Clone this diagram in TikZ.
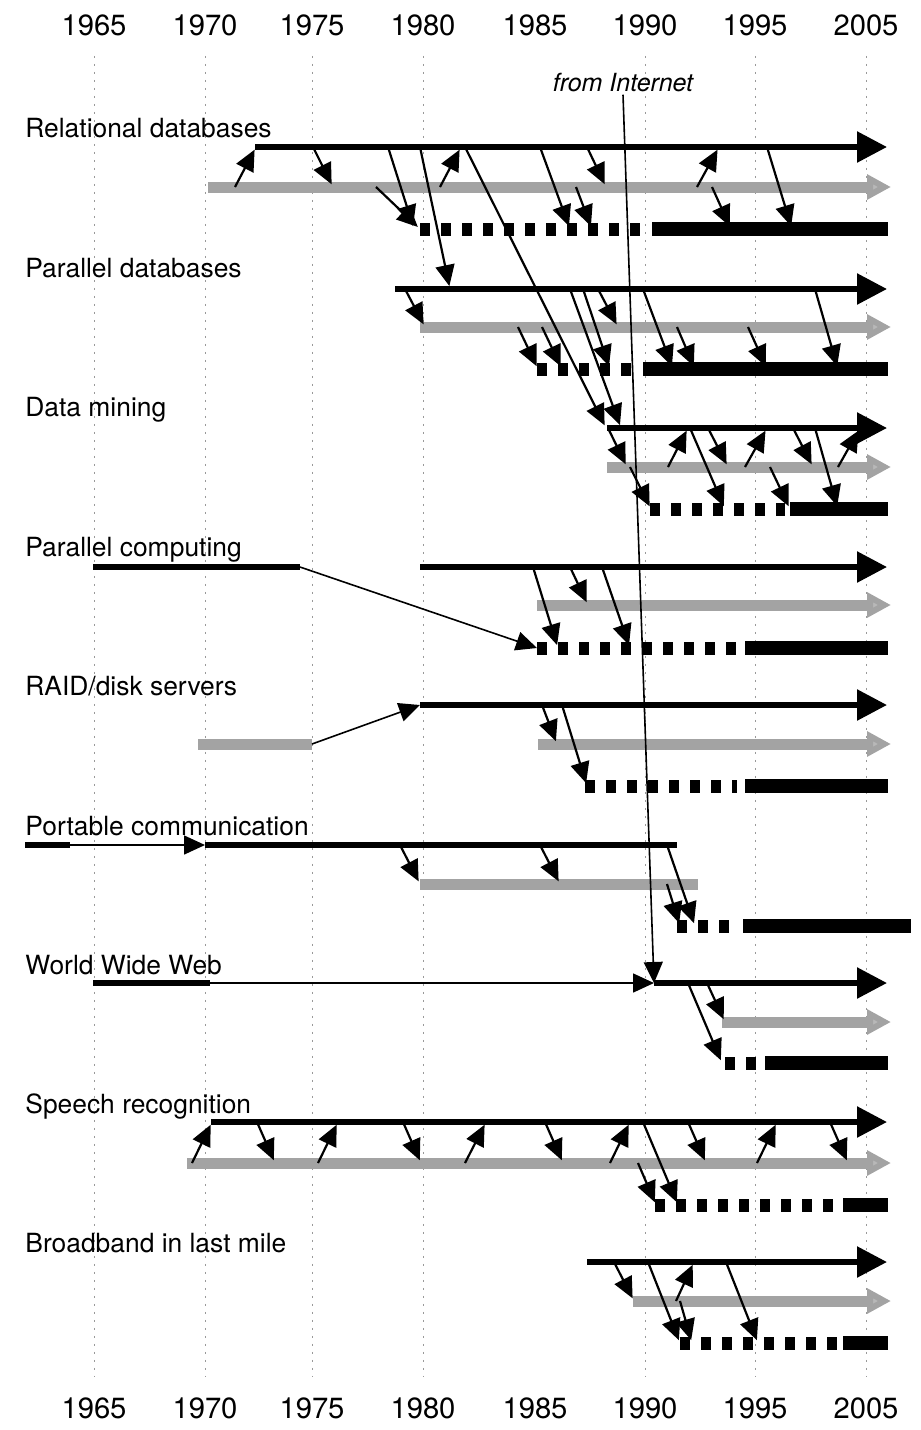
\documentclass[tikz,border=0pt]{standalone}
\usepackage{fontspec}
\setmainfont{TeX Gyre Heros}
\usetikzlibrary{arrows.meta}
\definecolor{shade}{gray}{0.64}
\definecolor{shadetip}{gray}{0.72}
\newcommand\lnk[4]{\draw[link] (#1,0 |- #2) -- (#3,0 |- #4);}
\begin{document}
\begin{tikzpicture}[x=0.5pt,y=-0.5pt,
  yearlabel/.style={font=\fontsize{14.6pt}{16pt}\selectfont, inner sep=0pt},
  rowlabel/.style={font=\fontsize{13.2pt}{15pt}\selectfont, inner sep=0pt, anchor=base west},
  yeargrid/.style={black!40, line width=0.4pt, dash pattern=on 1pt off 3pt},
  mainline/.style={line width=2.8pt, -{Triangle[length=15pt,width=15pt]}},
  mainplain/.style={line width=2.8pt},
  grayline/.style={draw=shade, line width=5.5pt, -{Triangle[length=12pt,width=12pt,fill=shadetip]}},
  grayplain/.style={draw=shade, line width=5.5pt},
  plan/.style={line width=6.5pt, dash pattern=on 5pt off 5.5pt},
  firm/.style={line width=7pt},
  link/.style={line width=1.1pt, shorten >=1.5pt, -{Triangle[length=10.5pt,width=9.5pt]}},
  bridge/.style={line width=0.8pt, -{Triangle[length=10.5pt,width=9.5pt]}}]
\useasboundingbox (0,0) rectangle (921,1430);

% year axis, top and bottom
\foreach \yr/\xx in {1965/94,1970/205,1975/312,1980/423,1985/535,1990/645,1995/755,2005/866} {
  \node[yearlabel] (top\yr) at (\xx,25) {\yr};
  \node[yearlabel] (bot\yr) at (\xx,1408) {\yr};
}
\foreach \yr in {1965,1970,1975,1980,1990,1995,2005}
  \draw[yeargrid, shorten <=10pt, shorten >=10pt] (top\yr) -- (bot\yr);

% levels of each row: research (black), product (gray), market (bottom)
\foreach \i/\b/\g/\d in {1/147/187/229, 2/289/327/369, 3/428/467/509,
    4/567/605/648, 5/705/744/786, 6/845/884/926, 7/983/1022/1063,
    8/1122/1163/1205, 9/1262/1301/1343} {
  \coordinate (B\i) at (0,\b);
  \coordinate (G\i) at (0,\g);
  \coordinate (D\i) at (0,\d);
}

% row titles
\node[rowlabel] (lab1) at (25,137) {Relational databases};
\node[rowlabel] (lab2) at (25,277) {Parallel databases};
\node[rowlabel] (lab3) at (25,416) {Data mining};
\node[rowlabel] (lab4) at (25,556) {Parallel computing};
\node[rowlabel] (lab5) at (25,695) {RAID/disk servers};
\node[rowlabel] (lab6) at (25,835) {Portable communication};
\node[rowlabel] (lab7) at (25,974) {World Wide Web};
\node[rowlabel] (lab8) at (25,1113) {Speech recognition};
\node[rowlabel] (lab9) at (25,1252) {Broadband in last mile};

% ---- Relational databases
\draw[grayline] (208,0 |- G1) -- (891,0 |- G1);
\draw[mainline] (255,0 |- B1) -- (887,0 |- B1);
\draw[plan] (420,0 |- D1) -- (642,0 |- D1);
\draw[firm] (652,0 |- D1) -- (888,0 |- D1);
% ---- Parallel databases
\draw[grayline] (420,0 |- G2) -- (891,0 |- G2);
\draw[mainline] (395,0 |- B2) -- (887,0 |- B2);
\draw[plan] (537,0 |- D2) -- (636,0 |- D2);
\draw[firm] (643,0 |- D2) -- (888,0 |- D2);
% ---- Data mining
\draw[grayline] (607,0 |- G3) -- (891,0 |- G3);
\draw[mainline] (607,0 |- B3) -- (887,0 |- B3);
\draw[plan] (650,0 |- D3) -- (785,0 |- D3);
\draw[firm] (790,0 |- D3) -- (888,0 |- D3);
% ---- Parallel computing
\draw[mainplain] (93,0 |- B4) coordinate (pc0) -- (300,0 |- B4) coordinate (pc1);
\draw[grayline] (537,0 |- G4) -- (891,0 |- G4);
\draw[mainline] (420,0 |- B4) -- (887,0 |- B4);
\draw[plan] (537,0 |- D4) coordinate (pc2) -- (737,0 |- D4);
\draw[firm] (745,0 |- D4) -- (888,0 |- D4);
\draw[bridge] (pc1) -- (pc2);
% ---- RAID/disk servers
\draw[grayplain] (198,0 |- G5) -- (312,0 |- G5) coordinate (rd0);
\draw[grayline] (538,0 |- G5) -- (891,0 |- G5);
\draw[mainline] (420,0 |- B5) coordinate (rd1) -- (887,0 |- B5);
\draw[plan] (585,0 |- D5) -- (737,0 |- D5);
\draw[firm] (745,0 |- D5) -- (888,0 |- D5);
\draw[bridge] (rd0) -- (rd1);
% ---- Portable communication
\draw[mainplain] (25,0 |- B6) -- (70,0 |- B6) coordinate (pm0);
\draw[mainplain] (205,0 |- B6) coordinate (pm1) -- (677,0 |- B6);
\draw[bridge] (pm0) -- (pm1);
\draw[grayplain] (420,0 |- G6) -- (698,0 |- G6);
\draw[plan] (677,0 |- D6) -- (737,0 |- D6);
\draw[firm] (743,0 |- D6) -- (911,0 |- D6);
% ---- World Wide Web
\draw[mainplain] (93,0 |- B7) -- (210,0 |- B7) coordinate (ww0);
\draw[mainline] (654,0 |- B7) coordinate (ww1) -- (887,0 |- B7);
\draw[bridge] (ww0) -- (ww1);
\draw[grayline] (722,0 |- G7) -- (891,0 |- G7);
\draw[plan] (725,0 |- D7) -- (757,0 |- D7);
\draw[firm] (765,0 |- D7) -- (888,0 |- D7);
\node[font=\fontsize{12.5pt}{14pt}\selectfont\itshape, inner sep=1pt] (inet) at (623,83) {from Internet};
\draw[bridge] (inet.south) -- (ww1);
% ---- Speech recognition
\draw[grayline] (187,0 |- G8) -- (891,0 |- G8);
\draw[mainline] (211,0 |- B8) -- (887,0 |- B8);
\draw[plan] (655,0 |- D8) -- (838,0 |- D8);
\draw[firm] (843,0 |- D8) -- (888,0 |- D8);
% ---- Broadband in last mile
\draw[grayline] (633,0 |- G9) -- (891,0 |- G9);
\draw[mainline] (587,0 |- B9) -- (887,0 |- B9);
\draw[plan] (680,0 |- D9) -- (838,0 |- D9);
\draw[firm] (843,0 |- D9) -- (888,0 |- D9);

% ---- transfer arrows
% relational databases
\lnk{235}{G1}{256}{B1}
\lnk{440}{G1}{461}{B1}
\lnk{697}{G1}{719}{B1}
\lnk{313}{B1}{333}{G1}
\lnk{587}{B1}{606}{G1}
\lnk{376}{G1}{420}{D1}
\lnk{576}{G1}{592}{D1}
\lnk{712}{G1}{731}{D1}
\lnk{388}{B1}{414}{D1}
\lnk{540}{B1}{570}{D1}
\lnk{767}{B1}{792}{D1}
\lnk{420}{B1}{450}{B2}
\lnk{465}{B1}{606}{B3}
% parallel databases
\lnk{405}{B2}{425}{G2}
\lnk{518}{G2}{538}{D2}
\lnk{542}{G2}{562}{D2}
\lnk{570}{B2}{621}{B3}
\lnk{583}{B2}{610}{D2}
\lnk{598}{B2}{618}{G2}
\lnk{643}{B2}{673}{D2}
\lnk{677}{G2}{695}{D2}
\lnk{748}{G2}{767}{D2}
\lnk{815}{B2}{838}{D2}
% data mining
\lnk{608}{B3}{627}{G3}
\lnk{630}{G3}{651}{D3}
\lnk{668}{G3}{688}{B3}
\lnk{690}{B3}{725}{D3}
\lnk{708}{B3}{728}{G3}
\lnk{745}{G3}{767}{B3}
\lnk{770}{G3}{790}{D3}
\lnk{793}{B3}{813}{G3}
\lnk{815}{B3}{838}{D3}
\lnk{838}{G3}{860}{B3}
% parallel computing
\lnk{533}{B4}{558}{D4}
\lnk{570}{B4}{588}{G4}
\lnk{602}{B4}{630}{D4}
% RAID/disk servers
\lnk{542}{B5}{557}{G5}
\lnk{562}{B5}{587}{D5}
% portable communication
\lnk{400}{B6}{420}{G6}
\lnk{540}{B6}{560}{G6}
\lnk{667}{B6}{695}{D6}
\lnk{667}{G6}{680}{D6}
% world wide web
\lnk{688}{B7}{722}{D7}
\lnk{707}{B7}{725}{G7}
% speech recognition
\lnk{192}{G8}{212}{B8}
\lnk{318}{G8}{338}{B8}
\lnk{465}{G8}{486}{B8}
\lnk{610}{G8}{630}{B8}
\lnk{757}{G8}{777}{B8}
\lnk{257}{B8}{275}{G8}
\lnk{403}{B8}{421}{G8}
\lnk{545}{B8}{563}{G8}
\lnk{688}{B8}{706}{G8}
\lnk{830}{B8}{848}{G8}
\lnk{643}{B8}{678}{D8}
\lnk{638}{G8}{656}{D8}
% broadband in last mile
\lnk{614}{B9}{634}{G9}
\lnk{648}{B9}{680}{D9}
\lnk{676}{G9}{694}{B9}
\lnk{680}{G9}{692}{D9}
\lnk{726}{B9}{758}{D9}
\end{tikzpicture}
\end{document}
